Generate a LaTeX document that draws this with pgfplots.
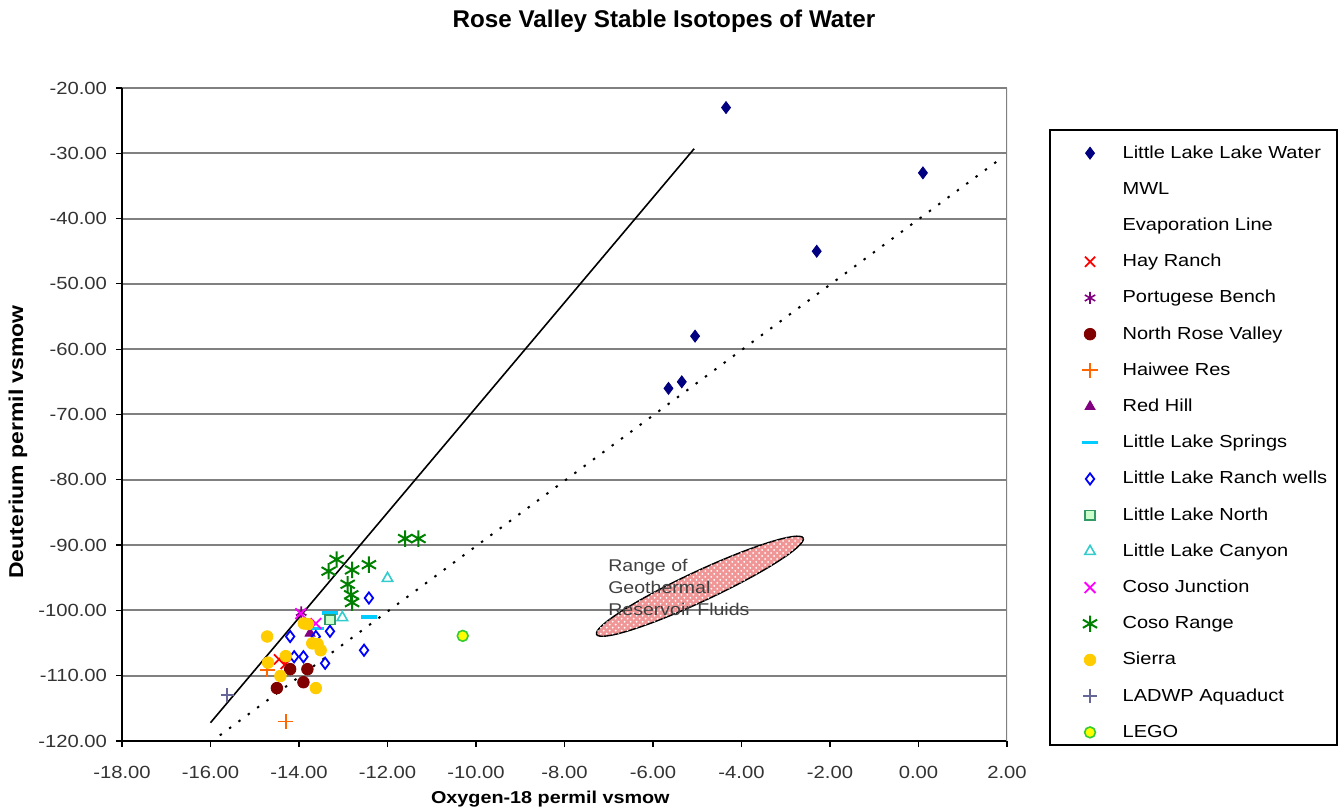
\documentclass[border=0pt]{standalone}
\usepackage{fontspec}
\setmainfont{Liberation Sans}
\newfontfamily\widefont{Liberation Sans}[FakeStretch=1.15]
\usepackage{pgfplots}
\pgfplotsset{compat=1.18}
\usetikzlibrary{patterns,shapes.geometric}

\definecolor{navyc}{RGB}{0,0,128}
\definecolor{hayred}{RGB}{255,0,0}
\definecolor{portpurp}{RGB}{128,0,128}
\definecolor{nrvred}{RGB}{128,0,0}
\definecolor{haiwee}{RGB}{255,102,0}
\definecolor{redhill}{RGB}{128,0,128}
\definecolor{llspring}{RGB}{0,204,255}
\definecolor{llranch}{RGB}{0,0,255}
\definecolor{llnorth}{RGB}{51,153,102}
\definecolor{llnorthfill}{RGB}{204,255,204}
\definecolor{llcanyon}{RGB}{51,204,204}
\definecolor{cosojct}{RGB}{255,0,255}
\definecolor{cosorange}{RGB}{0,128,0}
\definecolor{sierra}{RGB}{255,204,0}
\definecolor{ladwp}{RGB}{102,102,153}
\definecolor{legoline}{RGB}{51,204,51}
\definecolor{legofill}{RGB}{255,255,0}
\definecolor{geopink}{RGB}{240,150,150}
\definecolor{gridgray}{RGB}{128,128,128}

\newcommand{\tickfont}{\widefont\fontsize{8.8bp}{10bp}\selectfont}
\newcommand{\legfont}{\widefont\fontsize{8.7bp}{10bp}\selectfont}

\begin{document}
\begin{tikzpicture}
\useasboundingbox (-61bp,-34.5bp) rectangle (610.5bp,370.5bp);
\begin{axis}[
  at={(0,0)}, anchor=south west,
  scale only axis, width=442.5bp, height=326.5bp,
  xmin=-18, xmax=2, ymin=-120, ymax=-20,
  xtick distance=2, ytick distance=10,
  axis x line*=bottom, axis y line*=left,
  axis line style={line width=0.7bp, black, -},
  tick align=outside, major tick length=3bp,
  tick style={black, line width=0.6bp},
  ymajorgrids, grid style={line width=1bp, gridgray},
  /pgf/number format/.cd, fixed, fixed zerofill, precision=2, assume math mode=true,
  /pgfplots/.cd,
  tick label style={font=\tickfont, text=black!80},
  xticklabel style={yshift=-6bp},
  yticklabel style={xshift=-1bp},
  xlabel={Oxygen-18 permil vsmow},
  ylabel={Deuterium permil vsmow},
  xlabel style={font=\widefont\bfseries\fontsize{8.6bp}{10bp}\selectfont,
    at={(rel axis cs:0.484,0)}, anchor=center, yshift=-29bp},
  ylabel style={font=\widefont\bfseries\fontsize{10bp}{11bp}\selectfont,
    at={(rel axis cs:0,0.458)}, anchor=center, yshift=52bp},
  legend style={at={(axis description cs:1.0746,0.914)}, anchor=north west,
    draw=none, fill=none, inner sep=0pt, outer sep=0pt,
    row sep=9.1bp, column sep=12.5bp, font=\legfont,
    nodes={inner xsep=0pt, inner ysep=0pt, text height=7bp, text depth=2bp}},
  legend cell align=left,
]

% isotope samples
\addplot[only marks, mark=diamond*, mark size=3bp, color=navyc] coordinates {
  (-4.35,-23) (0.1,-33) (-2.3,-45) (-5.05,-58) (-5.35,-65) (-5.65,-66)};
\addlegendentry{Little Lake Lake Water}

% meteoric water line
\addplot[black, line width=0.8bp, legend image code/.code={}] coordinates {
  (-16,-117.2) (-5.07,-29.3)};
\addlegendentry{MWL}

% evaporation trend
\addplot[black, line width=1bp, dash pattern=on 1.2bp off 4.6bp, legend image code/.code={}] coordinates {
  (-16,-120.2) (1.9,-30.6)};
\addlegendentry{Evaporation Line}

\addplot[only marks, mark=x, mark size=3.6bp, color=hayred, line width=0.9bp] coordinates {
  (-14.45,-107.5) (-14.3,-108.2)};
\addlegendentry{Hay Ranch}

\addplot[only marks, mark=asterisk, mark size=3bp, color=portpurp, line width=0.8bp] coordinates {
  (-13.95,-100.3)};
\addlegendentry{Portugese Bench}

\addplot[only marks, mark=*, mark size=2.9bp, color=nrvred] coordinates {
  (-14.2,-109.0) (-13.81,-109.0) (-14.5,-111.9) (-13.9,-111.0)};
\addlegendentry{North Rose Valley}

\addplot[only marks, mark=+, mark size=3.8bp, color=haiwee, line width=0.9bp] coordinates {
  (-14.72,-109.1) (-14.3,-117.0)};
\addlegendentry{Haiwee Res}

\addplot[only marks, mark=triangle*, mark size=2.9bp, color=redhill] coordinates {
  (-13.75,-103.5)};
\addlegendentry{Red Hill}

\addplot[only marks, mark=-, mark size=3.8bp, color=llspring, line width=1.7bp] coordinates {
  (-13.3,-100.4) (-12.42,-101.0) (-13.6,-102.8)};
\addlegendentry{Little Lake Springs}

\addplot[only marks, mark=diamond, mark size=2.8bp, color=llranch, line width=0.9bp] coordinates {
  (-12.42,-98.1) (-14.2,-104.0) (-13.62,-104.0) (-13.3,-103.2)
  (-14.11,-107.1) (-13.9,-107.1) (-13.41,-108.1) (-12.53,-106.1)};
\addlegendentry{Little Lake Ranch wells}

\addplot[only marks, mark=square*, mark size=2.4bp, draw=llnorth, fill=llnorthfill, line width=0.8bp] coordinates {
  (-13.3,-101.4)};
\addlegendentry{Little Lake North}

\addplot[only marks, mark=triangle, mark size=3bp, color=llcanyon, line width=0.8bp] coordinates {
  (-12.0,-95.1) (-13.02,-101.1)};
\addlegendentry{Little Lake Canyon}

\addplot[only marks, mark=x, mark size=3.8bp, color=cosojct, line width=0.9bp] coordinates {
  (-13.96,-100.5) (-13.62,-102.0)};
\addlegendentry{Coso Junction}

\addplot[only marks, mark=asterisk, mark size=4.1bp, color=cosorange, line width=1bp] coordinates {
  (-13.15,-92.2) (-13.33,-94.0) (-12.8,-93.8) (-12.42,-93.0)
  (-12.9,-96.0) (-12.82,-97.6) (-12.8,-98.8) (-11.6,-89.0) (-11.3,-89.0)};
\addlegendentry{Coso Range}

\addplot[only marks, mark=*, mark size=2.9bp, color=sierra] coordinates {
  (-14.72,-104.0) (-13.89,-102.0) (-13.8,-102.1) (-13.70,-105.05)
  (-13.58,-105.15) (-13.51,-106.1) (-14.3,-107.0) (-14.70,-108.0)
  (-14.42,-110.05) (-13.62,-111.9)};
\addlegendentry{Sierra}

\addplot[only marks, mark=+, mark size=3.4bp, color=ladwp, line width=0.9bp] coordinates {
  (-15.62,-113.0)};
\addlegendentry{LADWP Aquaduct}

\addplot[only marks, mark=*, mark size=2.7bp, draw=legoline, fill=legofill, line width=0.8bp] coordinates {
  (-10.3,-103.9)};
\addlegendentry{LEGO}

% geothermal reservoir field
\node[ellipse, minimum width=114bp, minimum height=15bp, inner sep=0pt, rotate=25,
  draw=black, line width=0.7bp, fill=geopink,
  postaction={pattern=crosshatch dots, pattern color=white}]
  at (axis cs:-4.94,-96.3) {};
\node[anchor=north west, align=left, inner sep=0pt, text=black!75,
  font=\widefont\fontsize{8.5bp}{11bp}\selectfont]
  at (axis cs:-7.02,-92.1) {Range of\\Geothermal\\Reservoir Fluids};

% right border of plot area
\draw[gridgray, line width=1bp] (rel axis cs:1,0) -- (rel axis cs:1,1);
\end{axis}

% legend frame
\draw[black, line width=0.6bp] (464bp,-2bp) rectangle (607.5bp,305.5bp);

% title
\node[font=\bfseries\fontsize{12.1bp}{13bp}\selectfont] at (271bp,360bp) {Rose Valley Stable Isotopes of Water};
\end{tikzpicture}
\end{document}
